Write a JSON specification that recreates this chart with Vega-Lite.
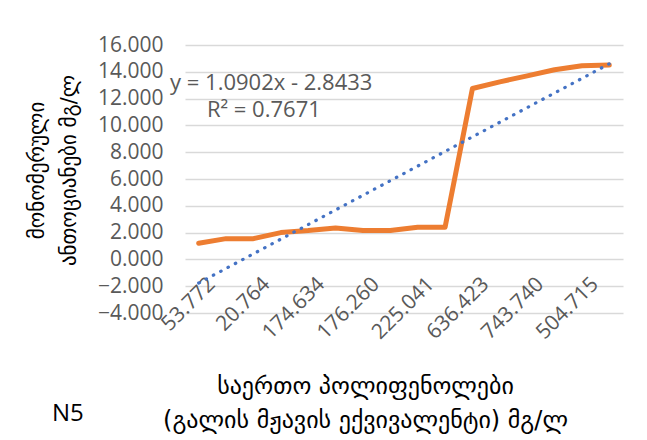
{
  "$schema": "https://vega.github.io/schema/vega-lite/v6.json",
  "width": 438,
  "height": 268,
  "autosize": {"type": "none"},
  "padding": {"left": 185, "top": 45, "right": 24, "bottom": 127},
  "background": "white",
  "config": {"view": {"stroke": null}},
  "title": {
    "text": "N5",
    "orient": "bottom",
    "anchor": "start",
    "frame": "group",
    "font": "Open Sans",
    "fontSize": 24,
    "fontWeight": "normal",
    "color": "#000000",
    "dx": -133,
    "offset": -30
  },
  "data": {
    "values": [
      {"n": 1, "y": 1.2},
      {"n": 2, "y": 1.55},
      {"n": 3, "y": 1.55},
      {"n": 4, "y": 2.0},
      {"n": 5, "y": 2.15},
      {"n": 6, "y": 2.35},
      {"n": 7, "y": 2.15},
      {"n": 8, "y": 2.15},
      {"n": 9, "y": 2.4},
      {"n": 10, "y": 2.4},
      {"n": 11, "y": 12.75},
      {"n": 12, "y": 13.25},
      {"n": 13, "y": 13.7},
      {"n": 14, "y": 14.15},
      {"n": 15, "y": 14.45},
      {"n": 16, "y": 14.5}
    ]
  },
  "encoding": {
    "x": {
      "field": "n",
      "type": "quantitative",
      "scale": {"domain": [0.5, 16.5], "nice": false, "zero": false},
      "axis": {
        "values": [1, 3, 5, 7, 9, 11, 13, 15],
        "labelExpr": "['53.772','','20.764','','174.634','','176.260','','225.041','','636.423','','743.740','','504.715',''][datum.value - 1]",
        "labelAngle": -45,
        "labelAlign": "right",
        "labelBaseline": "top",
        "labelPadding": -40,
        "labelOffset": 5,
        "labelFont": "Open Sans",
        "labelFontSize": 21,
        "labelColor": "#595959",
        "labelOverlap": false,
        "labelBound": false,
        "ticks": false,
        "domain": false,
        "grid": false,
        "title": ["საერთო პოლიფენოლები", "(გალის მჟავის ექვივალენტი) მგ/ლ"],
        "titleFont": "DejaVu Sans",
        "titleFontSize": 24,
        "titleFontWeight": "normal",
        "titleColor": "#000000",
        "titleLineHeight": 34,
        "titleAlign": "center",
        "titleBaseline": "alphabetic",
        "titleX": 180,
        "titleY": 80
      }
    },
    "y": {
      "field": "y",
      "type": "quantitative",
      "scale": {"domain": [-4, 16], "nice": false, "zero": false},
      "axis": {
        "values": [-4, -2, 0, 2, 4, 6, 8, 10, 12, 14, 16],
        "format": ".3f",
        "labelFont": "Open Sans",
        "labelFontSize": 21,
        "labelColor": "#595959",
        "labelPadding": 22,
        "ticks": false,
        "domain": false,
        "grid": true,
        "gridColor": "#d9d9d9",
        "gridWidth": 1.3,
        "title": ["მონომერული", "ანთოციანები მგ/ლ"],
        "titleFont": "DejaVu Sans",
        "titleFontSize": 21,
        "titleFontWeight": "normal",
        "titleColor": "#000000",
        "titleLineHeight": 32,
        "titleAngle": -90,
        "titleAlign": "center",
        "titleBaseline": "middle",
        "titleX": -148,
        "titleY": 125
      }
    }
  },
  "layer": [
    {
      "mark": {"type": "line", "color": "#ED7D31", "strokeWidth": 5, "strokeCap": "round", "strokeJoin": "round"}
    },
    {
      "transform": [{"regression": "y", "on": "n"}],
      "mark": {"type": "line", "color": "#4472C4", "strokeWidth": 3.2, "strokeDash": [0.5, 7.8], "strokeCap": "round"}
    },
    {
      "transform": [{"filter": "datum.n == 1"}],
      "mark": {
        "type": "text",
        "text": "y = 1.0902x - 2.8433",
        "font": "Open Sans",
        "fontSize": 22,
        "fontWeight": "normal",
        "color": "#595959",
        "align": "center",
        "baseline": "alphabetic"
      },
      "encoding": {
        "x": {"datum": 3.65, "type": "quantitative"},
        "y": {"datum": 12.64, "type": "quantitative"}
      }
    },
    {
      "transform": [{"filter": "datum.n == 1"}],
      "mark": {
        "type": "text",
        "text": "R² = 0.7671",
        "font": "Open Sans",
        "fontSize": 22,
        "fontWeight": "normal",
        "color": "#595959",
        "align": "center",
        "baseline": "alphabetic"
      },
      "encoding": {
        "x": {"datum": 3.38, "type": "quantitative"},
        "y": {"datum": 10.62, "type": "quantitative"}
      }
    }
  ]
}
